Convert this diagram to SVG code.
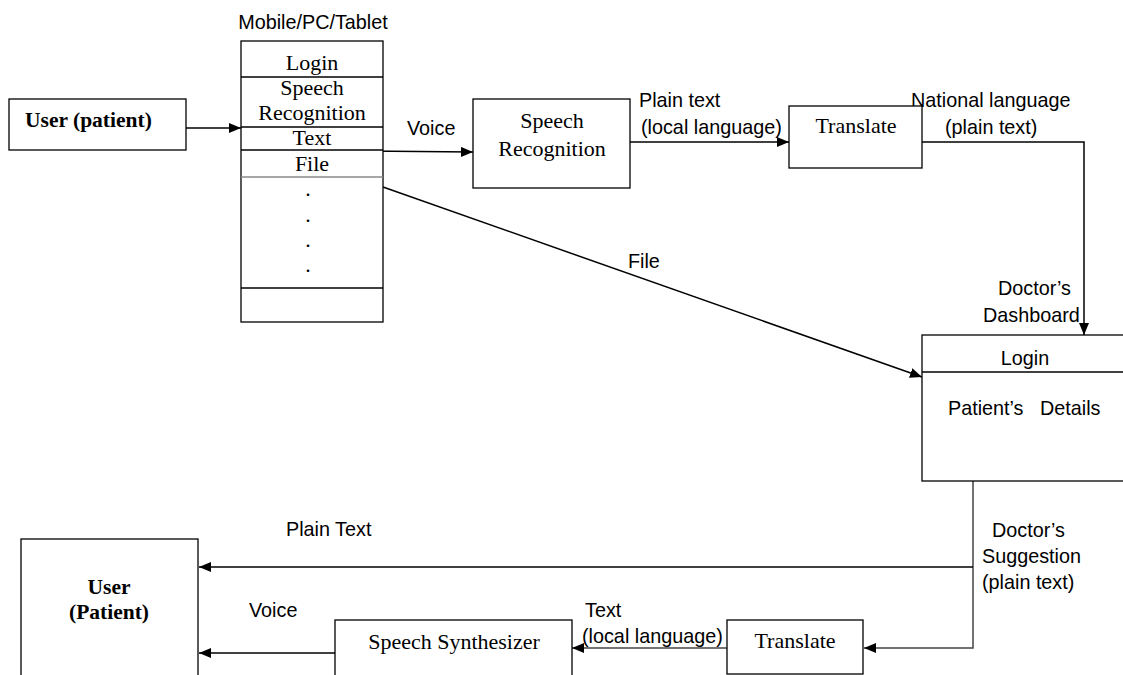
<svg xmlns="http://www.w3.org/2000/svg" width="1123" height="675" viewBox="0 0 1123 675">
<defs>
<marker id="ah" viewBox="0 0 12 10" refX="12" refY="5" markerWidth="12" markerHeight="10" markerUnits="userSpaceOnUse" orient="auto">
<path d="M0,0 L12,5 L0,10 Z" fill="#000"/>
</marker>
<style>
.box{fill:#fff;stroke:#000;stroke-width:1.3}
.ln{fill:none;stroke:#000;stroke-width:1.5}
.sep{stroke:#000;stroke-width:1.5}
.serif{font-family:"Liberation Serif","Times New Roman",serif;font-size:22px;fill:#000}
.bold{font-family:"Liberation Serif","Times New Roman",serif;font-size:21.5px;font-weight:bold;fill:#000}
.sans{font-family:"Liberation Sans",Arial,sans-serif;font-size:19.8px;fill:#000}
.mid{text-anchor:middle}
</style>
</defs>
<rect width="1123" height="675" fill="#fff"/>

<g id="connectors">
<line class="ln" x1="186" y1="128" x2="241" y2="128" marker-end="url(#ah)"/>
<line class="ln" x1="241" y1="150" x2="473" y2="152" marker-end="url(#ah)"/>
<line class="ln" x1="630" y1="142" x2="789" y2="142" marker-end="url(#ah)"/>
<polyline class="ln" points="922,142 1084,142 1084,335" marker-end="url(#ah)"/>
<line class="ln" x1="383" y1="187" x2="922" y2="377" marker-end="url(#ah)"/>
<polyline class="ln" points="973,481 973,648 864,648" marker-end="url(#ah)" style="stroke:#444"/>
<line class="ln" x1="973" y1="567" x2="199" y2="567" marker-end="url(#ah)"/>
<line class="ln" x1="727" y1="648" x2="572" y2="648" marker-end="url(#ah)" style="stroke:#444"/>
<line class="ln" x1="335" y1="653" x2="199" y2="653" marker-end="url(#ah)"/>
<text class="sans" x="407" y="135">Voice</text>
<text class="sans" x="639" y="107">Plain text</text>
<text class="sans" x="641" y="134">(local language)</text>
<text class="sans" x="911" y="107">National language</text>
<text class="sans" x="945" y="134">(plain text)</text>
<text class="sans" x="998" y="295">Doctor’s</text>
<text class="sans" x="983" y="322">Dashboard</text>
<text class="sans" x="628" y="268">File</text>
<text class="sans" x="286" y="536">Plain Text</text>
<text class="sans" x="249" y="617">Voice</text>
<text class="sans" x="992" y="537">Doctor’s</text>
<text class="sans" x="982" y="563">Suggestion</text>
<text class="sans" x="982" y="589">(plain text)</text>
<text class="sans" x="585" y="617">Text</text>
<text class="sans" x="582" y="643">(local language)</text>
</g>

<g id="user-top">
<rect class="box" x="9" y="99" width="177" height="51"/>
<text class="bold" x="25" y="127">User (patient)</text>
</g>

<g id="device">
<text class="sans mid" x="313" y="29">Mobile/PC/Tablet</text>
<rect class="box" x="241" y="41" width="142" height="281"/>
<line class="sep" x1="241" y1="77" x2="383" y2="77"/>
<line class="sep" x1="241" y1="127" x2="383" y2="127"/>
<line class="sep" x1="241" y1="150" x2="383" y2="150"/>
<line x1="241" y1="177" x2="383" y2="177" stroke="#888" stroke-width="1.5"/>
<line class="sep" x1="241" y1="288" x2="383" y2="288"/>
<text class="serif mid" x="312" y="70">Login</text>
<text class="serif mid" x="312" y="95">Speech</text>
<text class="serif mid" x="312" y="120">Recognition</text>
<text class="serif mid" x="312" y="145">Text</text>
<text class="serif mid" x="312" y="171">File</text>
<text class="serif mid" x="308" y="196">.</text>
<text class="serif mid" x="308" y="222">.</text>
<text class="serif mid" x="308" y="247">.</text>
<text class="serif mid" x="308" y="272">.</text>
</g>

<g id="speech-recognition">
<rect class="box" x="473" y="99" width="157" height="89"/>
<text class="serif mid" x="552" y="128">Speech</text>
<text class="serif mid" x="552" y="156">Recognition</text>
</g>

<g id="translate-top">
<rect class="box" x="789" y="106" width="133" height="62"/>
<text class="serif mid" x="856" y="133">Translate</text>
</g>

<g id="dashboard">
<rect class="box" x="922" y="335" width="210" height="146"/>
<line class="sep" x1="922" y1="372" x2="1123" y2="372"/>
<text class="sans mid" x="1025" y="365">Login</text>
<text class="sans" x="948" y="415" xml:space="preserve">Patient’s   Details</text>
</g>

<g id="user-bottom">
<rect class="box" x="21" y="539" width="177" height="145"/>
<text class="bold mid" x="109" y="594">User</text>
<text class="bold mid" x="109" y="619">(Patient)</text>
</g>

<g id="speech-synthesizer">
<rect class="box" x="335" y="620" width="237" height="64"/>
<text class="serif mid" x="454" y="649">Speech Synthesizer</text>
</g>

<g id="translate-bottom">
<rect class="box" x="727" y="620" width="136" height="54"/>
<text class="serif mid" x="795" y="648">Translate</text>
</g>
</svg>
